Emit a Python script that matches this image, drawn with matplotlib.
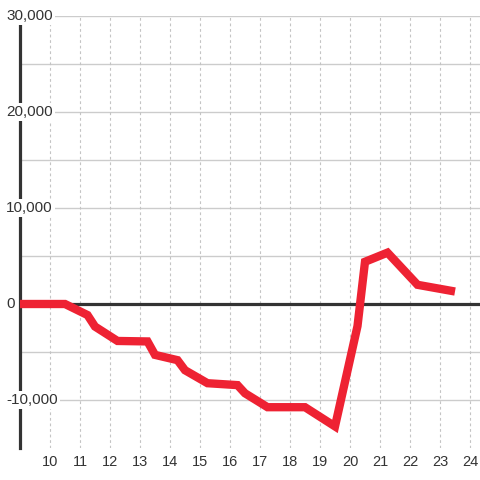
import matplotlib
matplotlib.use("Agg")
import matplotlib.pyplot as plt

# hours of day and the running value
hours = [9, 10.5, 11.25, 11.5, 12.25, 13.25, 13.5, 14.25, 14.5, 15.25,
         16.25, 16.5, 17.25, 18.5, 19.5, 20.25, 20.5, 21.25, 22.25, 23.5]
values = [0, 0, -1150, -2350, -3850, -3900, -5300, -5850, -6900, -8250,
          -8450, -9300, -10750, -10750, -12750, -2300, 4400, 5350, 2000, 1300]
xticks = list(range(10, 25))
yticks = [-10000, 0, 10000, 20000, 30000]
ygrid = [-10000, -5000, 5000, 10000, 15000, 20000, 25000, 30000]

plt.rcParams['font.family'] = ['Liberation Sans', 'DejaVu Sans']

fig = plt.figure(figsize=(4.8, 4.8), dpi=100)
ax = fig.add_axes([20/480, 32/480, 460/480, 432/480])
ax.set_xlim(9, 24 + 1/3)
ax.set_ylim(-15000, 30000)

for s in ['top', 'right', 'bottom']:
    ax.spines[s].set_visible(False)
ax.spines['left'].set_color('#333333')
ax.spines['left'].set_linewidth(2.3)
ax.spines['left'].set_zorder(3)

for g in ygrid:
    ax.axhline(g, color='#cccccc', lw=1, zorder=1)
for t in xticks:
    ax.axvline(t, color='#c4c4c4', lw=0.8, ls=(0, (2.5, 2.5)), zorder=1)
ax.axhline(0, color='#333333', lw=2.3, zorder=2)

ax.plot(hours, values, color='#ee2233', lw=6, solid_joinstyle='miter',
        solid_capstyle='butt', zorder=5, clip_on=False)

ax.set_xticks(xticks)
ax.set_xticklabels([str(t) for t in xticks])
ax.tick_params(axis='x', length=0, pad=5, labelsize=10.5, labelcolor='#333333')
ax.set_yticks([])

for v in yticks:
    ax.text(-0.030, v, '{:,}'.format(v), transform=ax.get_yaxis_transform(),
            ha='left', va='center', fontsize=11, color='#333333', zorder=6,
            clip_on=False,
            bbox=dict(facecolor='white', edgecolor='none', pad=1.5))

fig.savefig('out.png', dpi=100)
